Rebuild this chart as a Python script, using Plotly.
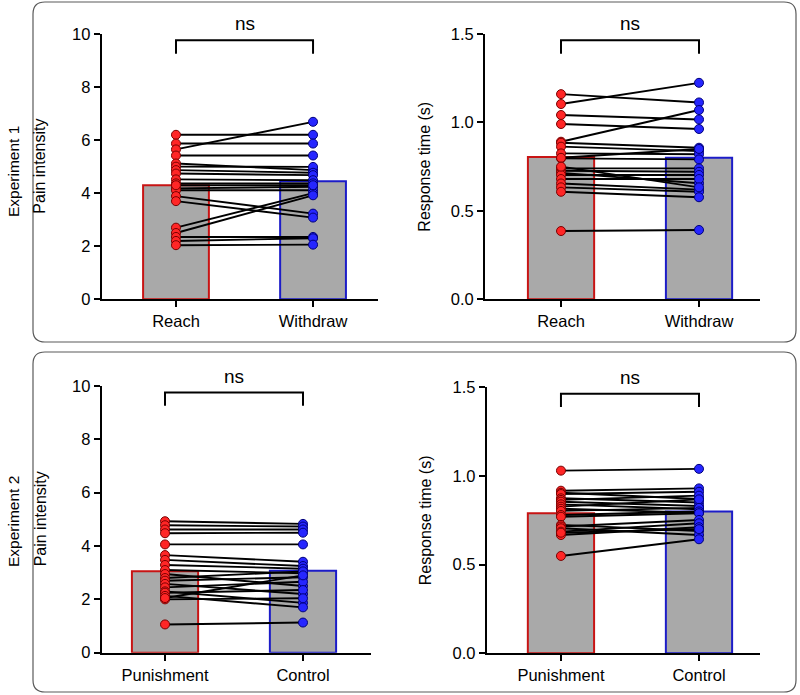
import plotly.graph_objects as go

W, H = 800, 695

# ---------------- data ----------------
exp1_conditions = ["Reach", "Withdraw"]
exp2_conditions = ["Punishment", "Control"]

# Experiment 1 - pain intensity (paired subjects)
pain1_reach = [6.2, 5.87, 5.65, 5.42, 5.12, 5.0, 4.87, 4.74, 4.52, 4.37, 4.18, 4.11, 3.89, 3.70, 2.70, 2.50, 2.35, 2.20, 2.04, 4.30]
pain1_withdraw = [6.2, 5.87, 6.69, 5.42, 4.87, 4.99, 4.77, 4.68, 4.49, 4.37, 4.24, 4.11, 3.23, 3.08, 4.00, 3.92, 2.35, 2.30, 2.06, 4.30]
pain1_means = [4.30, 4.45]

# Experiment 1 - response time
rt1_reach = [1.16, 1.104, 1.042, 0.991, 0.891, 0.885, 0.863, 0.825, 0.797, 0.74, 0.727, 0.715, 0.703, 0.68, 0.655, 0.633, 0.608, 0.386, 0.80, 0.75]
rt1_withdraw = [1.113, 1.224, 1.017, 0.963, 1.07, 0.857, 0.838, 0.82, 0.791, 0.74, 0.721, 0.656, 0.703, 0.68, 0.62, 0.608, 0.577, 0.392, 0.85, 0.633]
rt1_means = [0.805, 0.80]

# Experiment 2 - pain intensity
pain2_punish = [4.93, 4.78, 4.62, 4.48, 4.06, 3.66, 3.48, 3.29, 3.10, 2.95, 2.80, 2.70, 2.58, 2.45, 2.30, 2.25, 2.13, 2.00, 2.05, 1.06]
pain2_control = [4.83, 4.73, 4.62, 4.50, 4.06, 3.41, 3.25, 3.15, 2.98, 2.50, 3.05, 2.83, 2.20, 2.66, 1.87, 2.35, 1.70, 2.04, 2.90, 1.13]
pain2_means = [3.05, 3.07]

# Experiment 2 - response time
rt2_punish = [1.03, 0.917, 0.905, 0.898, 0.874, 0.865, 0.855, 0.84, 0.827, 0.815, 0.803, 0.78, 0.77, 0.724, 0.715, 0.705, 0.686, 0.667, 0.549, 0.68]
rt2_control = [1.04, 0.93, 0.87, 0.911, 0.85, 0.889, 0.831, 0.812, 0.868, 0.793, 0.82, 0.80, 0.79, 0.69, 0.752, 0.667, 0.733, 0.711, 0.643, 0.70]
rt2_means = [0.79, 0.80]

significance = ["ns", "ns", "ns", "ns"]

# ---------------- styling ----------------
FONT = "Liberation Sans, Arial, sans-serif"
BAR_FILL = "#a9a9a9"
RED_EDGE = "#c81414"
BLUE_EDGE = "#1c1cc8"
RED_DOT = "#ff2626"
BLUE_DOT = "#2626ff"

def fx(p):
    return p / W

def fy(p):
    return 1 - p / H

panels = [
    dict(a=pain1_reach, b=pain1_withdraw, means=pain1_means, labels=exp1_conditions,
         ytitle="Pain intensity", xdom=(101.7, 378), ydom=(299.3, 34), xr=(-0.542, 1.474),
         yr=(0, 10), dtick=2, fmt="d", tx=40),
    dict(a=rt1_reach, b=rt1_withdraw, means=rt1_means, labels=exp1_conditions,
         ytitle="Response time (s)", xdom=(485, 760), ydom=(299.3, 34), xr=(-0.551, 1.442),
         yr=(0, 1.5), dtick=0.5, fmt=".1f", tx=425),
    dict(a=pain2_punish, b=pain2_control, means=pain2_means, labels=exp2_conditions,
         ytitle="Pain intensity", xdom=(101.7, 371), ydom=(652.7, 386), xr=(-0.459, 1.493),
         yr=(0, 10), dtick=2, fmt="d", tx=40),
    dict(a=rt2_punish, b=rt2_control, means=rt2_means, labels=exp2_conditions,
         ytitle="Response time (s)", xdom=(486.7, 760), ydom=(653.3, 387.3), xr=(-0.538, 1.442),
         yr=(0, 1.5), dtick=0.5, fmt=".1f", tx=425),
]

fig = go.Figure()
shapes = []
annotations = []

for i, p in enumerate(panels):
    n = "" if i == 0 else str(i + 1)
    xa, ya = "x" + n, "y" + n
    fig.add_trace(go.Bar(
        x=[0, 1], y=p["means"], width=0.48, xaxis=xa, yaxis=ya,
        marker=dict(color=BAR_FILL, line=dict(color=[RED_EDGE, BLUE_EDGE], width=2)),
        showlegend=False, hoverinfo="skip"))
    lx, ly = [], []
    for va, vb in zip(p["a"], p["b"]):
        lx += [0, 1, None]
        ly += [va, vb, None]
    fig.add_trace(go.Scatter(x=lx, y=ly, mode="lines", xaxis=xa, yaxis=ya,
                             line=dict(color="black", width=1.9), showlegend=False,
                             hoverinfo="skip"))
    fig.add_trace(go.Scatter(x=[0] * len(p["a"]), y=p["a"], mode="markers", xaxis=xa, yaxis=ya,
                             marker=dict(size=9, color=RED_DOT, line=dict(color="#7a0000", width=1)),
                             showlegend=False, cliponaxis=False))
    fig.add_trace(go.Scatter(x=[1] * len(p["b"]), y=p["b"], mode="markers", xaxis=xa, yaxis=ya,
                             marker=dict(size=9, color=BLUE_DOT, line=dict(color="#00007a", width=1)),
                             showlegend=False, cliponaxis=False))

    ymax = p["yr"][1]
    fig.update_layout(**{
        "xaxis" + n: dict(domain=[fx(p["xdom"][0]), fx(p["xdom"][1])], range=list(p["xr"]),
                          tickvals=[0, 1], ticktext=p["labels"], showline=True, linecolor="black",
                          linewidth=2, ticks="outside", ticklen=6, tickwidth=2, tickcolor="black",
                          showgrid=False, zeroline=False, anchor=ya, fixedrange=True,
                          automargin=False,
                          tickfont=dict(family=FONT, size=16.5, color="black")),
        "yaxis" + n: dict(domain=[fy(p["ydom"][0]), fy(p["ydom"][1])], range=list(p["yr"]),
                          dtick=p["dtick"], tick0=0, tickformat=p["fmt"], showline=True,
                          linecolor="black", linewidth=2, ticks="outside", ticklen=6, tickwidth=2,
                          tickcolor="black", showgrid=False, zeroline=False, anchor=xa,
                          automargin=False, fixedrange=True,
                          tickfont=dict(family=FONT, size=16.5, color="black")),
    })
    top = ymax * 0.976
    bot = ymax * 0.926
    shapes.append(dict(type="path", xref=xa, yref=ya,
                       path=f"M 0,{bot} L 0,{top} L 1,{top} L 1,{bot}",
                       line=dict(color="black", width=2)))
    annotations.append(dict(x=0.5, y=fy(p["ydom"][1] - 10), xref=xa, yref="paper",
                            text=significance[i], showarrow=False, yanchor="middle",
                            font=dict(family=FONT, size=19, color="black")))
    annotations.append(dict(x=fx(p["tx"]), y=(fy(p["ydom"][0]) + fy(p["ydom"][1])) / 2,
                            xref="paper", yref="paper", text=p["ytitle"], textangle=-90,
                            showarrow=False, xanchor="center", yanchor="middle",
                            font=dict(family=FONT, size=16, color="black")))

def rounded(x0, y0, x1, y1, r=12):
    rx, ry = r / W, r / H
    X0, X1 = fx(x0), fx(x1)
    Y0, Y1 = fy(y0), fy(y1)
    return (f"M {X0+rx},{Y0} L {X1-rx},{Y0} Q {X1},{Y0} {X1},{Y0-ry} "
            f"L {X1},{Y1+ry} Q {X1},{Y1} {X1-rx},{Y1} L {X0+rx},{Y1} "
            f"Q {X0},{Y1} {X0},{Y1+ry} L {X0},{Y0-ry} Q {X0},{Y0} {X0+rx},{Y0} Z")

for (y0, y1) in [(2, 342), (352, 692)]:
    shapes.append(dict(type="path", xref="paper", yref="paper", path=rounded(33, y0, 796, y1),
                       line=dict(color="#5a5a5a", width=1.2), layer="below"))

annotations.append(dict(x=fx(13), y=fy(172), xref="paper", yref="paper", text="Experiment 1",
                        textangle=-90, showarrow=False, xanchor="center", yanchor="middle",
                        font=dict(family=FONT, size=15.5, color="black")))
annotations.append(dict(x=fx(13), y=fy(522), xref="paper", yref="paper", text="Experiment 2",
                        textangle=-90, showarrow=False, xanchor="center", yanchor="middle",
                        font=dict(family=FONT, size=15.5, color="black")))

fig.update_layout(width=W, height=H, margin=dict(l=0, r=0, t=0, b=0, pad=0, autoexpand=False),
                  paper_bgcolor="white", plot_bgcolor="white", barmode="overlay",
                  shapes=shapes, annotations=annotations, showlegend=False,
                  font=dict(family=FONT, color="black"))

fig.write_html("out.html", config={"displayModeBar": False},
               post_script="document.body.style.margin='0';document.body.style.overflow='hidden';")
